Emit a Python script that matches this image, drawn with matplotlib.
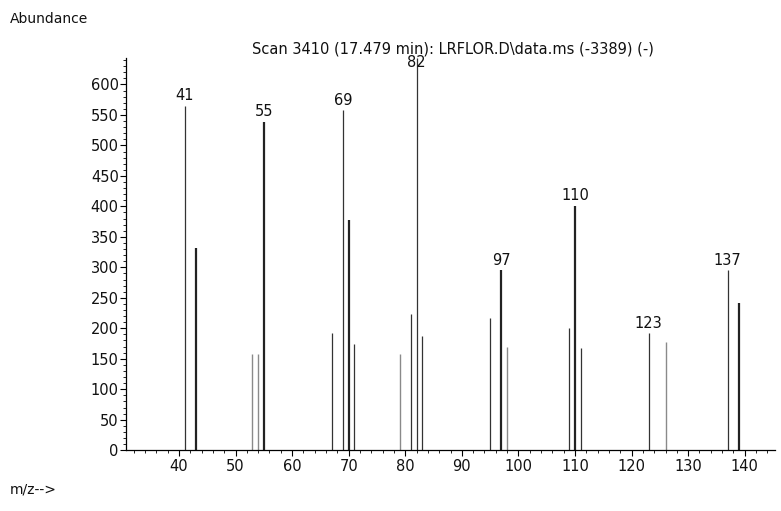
import matplotlib
matplotlib.use('Agg')
import matplotlib.pyplot as plt
from matplotlib.ticker import MultipleLocator

plt.rcParams['font.family'] = ['DejaVu Sans']

# m/z peaks and their abundances
mz = [41, 43, 53, 54, 55, 67, 69, 70, 71, 79, 81, 82, 83,
      95, 97, 98, 109, 110, 111, 123, 126, 137, 139]
abundance = [565, 331, 158, 157, 539, 192, 558, 378, 175, 158, 224, 643, 188,
             217, 295, 170, 200, 401, 167, 192, 178, 295, 241]
labelled = [41, 55, 69, 82, 97, 110, 123, 137]
title = 'Scan 3410 (17.479 min): LRFLOR.D\\data.ms (-3389) (-)'

fig = plt.figure(figsize=(7.81, 5.11), dpi=100)
ax = fig.add_axes([0.161, 0.119, 0.831, 0.767])

darker = [43, 55, 70, 97, 110, 139]
lighter = [53, 54, 79, 98, 126]
for m, a in zip(mz, abundance):
    if m in darker:
        c, lw = '#222222', 1.6
    elif m in lighter:
        c, lw = '#8a8a8a', 1.0
    else:
        c, lw = '#333333', 0.9
    ax.vlines(m, 0, a, colors=c, linewidth=lw)
    if m in labelled:
        ax.text(m, min(a, 620) + 4, str(m), ha='center', va='bottom',
                fontsize=10.5, color='#111111')

ax.set_xlim(30.6, 145.3)
ax.set_ylim(0, 643)
ax.xaxis.set_minor_locator(MultipleLocator(2))
ax.yaxis.set_major_locator(MultipleLocator(50))
ax.yaxis.set_minor_locator(MultipleLocator(10))
ax.set_xticks(range(40, 141, 10))
ax.tick_params(axis='both', labelsize=10.5, direction='out', width=0.8,
               labelcolor='#111111')
ax.tick_params(which='major', length=4)
ax.tick_params(which='minor', length=2.5)
ax.tick_params(axis='y', pad=1)
ax.tick_params(axis='x', pad=2)
for s in ['top', 'right']:
    ax.spines[s].set_visible(False)
for s in ['left', 'bottom']:
    ax.spines[s].set_linewidth(0.9)

fig.text(0.013, 0.962, 'Abundance', fontsize=10, va='center', color='#111111')
fig.text(0.58, 0.905, title, fontsize=10.5, ha='center', va='center',
         color='#111111')
fig.text(0.013, 0.042, 'm/z-->', fontsize=10, va='center', color='#111111')

fig.savefig('out.png', dpi=100)
